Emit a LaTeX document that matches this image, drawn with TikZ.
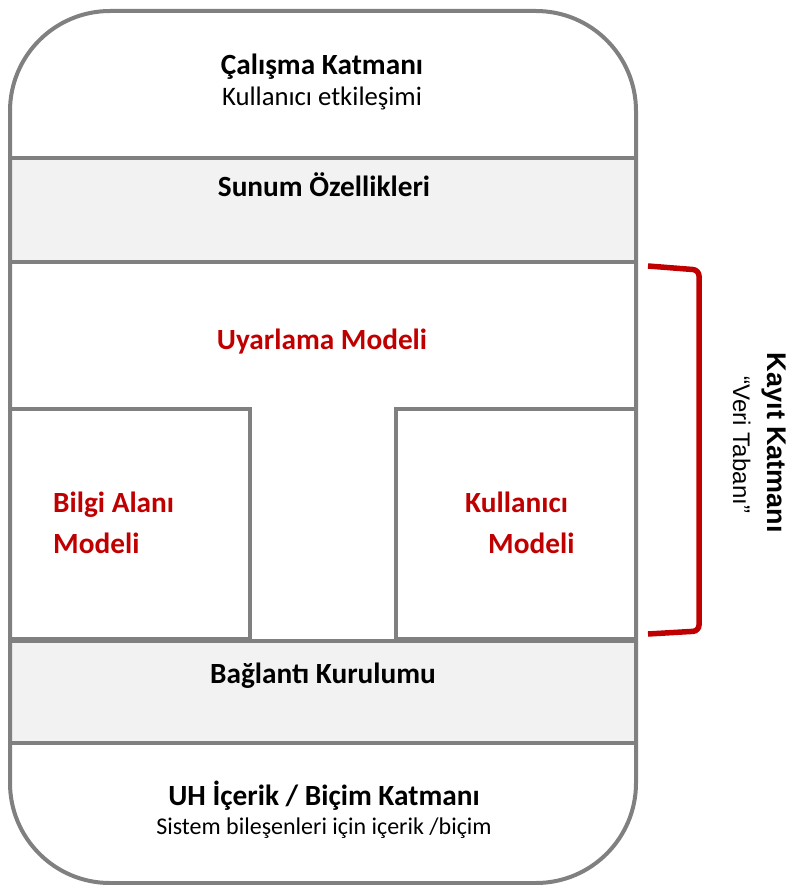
\documentclass[tikz,border=0pt]{standalone}
\usepackage{fontspec}
\setmainfont{Carlito}
\newfontfamily\arialfont{Liberation Sans}
\definecolor{edgegray}{HTML}{808080}
\definecolor{bandgray}{HTML}{F2F2F2}
\definecolor{darkred}{HTML}{C00000}
\tikzset{
  layerline/.style={draw=edgegray, line width=4pt},
  headtext/.style={font=\fontsize{29.3}{35}\selectfont\bfseries, anchor=base, inner sep=0pt},
  subtext/.style={font=\fontsize{26.7}{32}\selectfont, anchor=base, inner sep=0pt},
  smalltext/.style={font=\fontsize{24}{29}\selectfont, anchor=base, inner sep=0pt},
  modeltext/.style={headtext, text=darkred},
  sidetext/.style={anchor=base, inner sep=0pt, rotate=-90},
  bracketline/.style={draw=darkred, line width=5.5pt, rounded corners=6pt}
}
\begin{document}
\begin{tikzpicture}[x=1pt, y=-1pt]
  \useasboundingbox (0,0) rectangle (789,885);

  % stack background and the two shaded bands
  \fill[white, rounded corners=100pt] (10,11) rectangle (636,883);
  \fill[bandgray] (10,158) rectangle (636,262);
  \fill[bandgray] (10,641) rectangle (636,743);

  % layer separators
  \draw[layerline] (10,158) -- (636,158);
  \draw[layerline] (10,262) -- (636,262);
  \draw[layerline] (10,641) -- (636,641);
  \draw[layerline] (10,743) -- (636,743);

  % domain and user model boxes
  \draw[layerline] (10,409) rectangle (250,639);
  \draw[layerline] (396,409) rectangle (636,639);

  % outer frame
  \draw[layerline, rounded corners=100pt] (10,11) rectangle (636,883);

  % layer labels
  \node[headtext] (calisma) at (322,75) {Çalışma Katmanı};
  \node[subtext] (etkilesim) at (322,106) {Kullanıcı etkileşimi};
  \node[headtext] (sunum) at (324,197) {Sunum Özellikleri};
  \node[modeltext] (uyarlama) at (322,349) {Uyarlama Modeli};
  \node[modeltext, anchor=base west] (bilgi1) at (53,512) {Bilgi Alanı};
  \node[modeltext, anchor=base west] (bilgi2) at (53,553) {Modeli};
  \node[modeltext, anchor=base west] (kullanici1) at (465,512) {Kullanıcı};
  \node[modeltext, anchor=base west] (kullanici2) at (488,553) {Modeli};
  \node[headtext] (baglanti) at (323,683) {Bağlantı Kurulumu};
  \node[headtext] (icerik) at (324,805) {UH İçerik / Biçim Katmanı};
  \node[smalltext] (bilesen) at (324,834) {Sistem bileşenleri için içerik /biçim};

  % storage layer bracket and its label
  \coordinate (brtop) at (648,266);
  \coordinate (brbot) at (648,634);
  \draw[bracketline] (brtop) -- (699,270) -- (699,631) -- (brbot);
  \node[sidetext, font=\arialfont\fontsize{27}{32}\selectfont\bfseries] (kayit) at (767,443) {Kayıt Katmanı};
  \node[sidetext, font=\arialfont\fontsize{24}{29}\selectfont] (veritabani) at (733,445) {“Veri Tabanı”};
\end{tikzpicture}
\end{document}
